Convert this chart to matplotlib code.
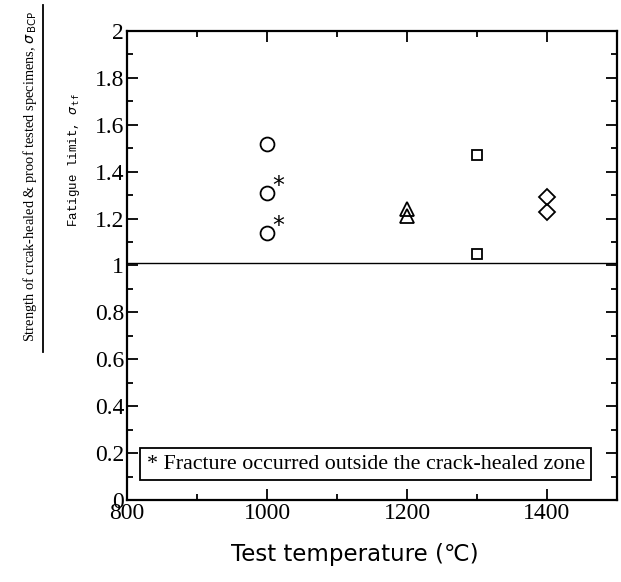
import numpy as np
import matplotlib.pyplot as plt
from matplotlib.ticker import MultipleLocator

# data (normalised strength vs test temperature)
temp_circle = [1000, 1000, 1000]
val_circle = [1.52, 1.31, 1.14]
star_circle = [False, True, True]

temp_tri = [1200, 1200]
val_tri = [1.24, 1.21]

temp_sq = [1300, 1300]
val_sq = [1.47, 1.05]

temp_dia = [1400, 1400]
val_dia = [1.29, 1.23]

ref_level = 1.01

plt.rcParams['font.family'] = ['Liberation Serif', 'DejaVu Serif']

fig = plt.figure(figsize=(6.21, 5.82), dpi=100)
ax = fig.add_axes([127/621, 82/582, 490/621, 469/582])

mk = dict(linestyle='none', markerfacecolor='none', markeredgecolor='black', markeredgewidth=1.3)
ax.plot(temp_circle, val_circle, marker='o', markersize=10, **mk)
ax.plot(temp_tri, val_tri, marker='^', markersize=10, **mk)
ax.plot(temp_sq, val_sq, marker='s', markersize=7.5, **mk)
ax.plot(temp_dia, val_dia, marker='D', markersize=8, **mk)

# asterisks for fractures outside the healed zone
for t, v, s in zip(temp_circle, val_circle, star_circle):
    if s:
        ax.annotate('*', (t, v), xytext=(8, 5), textcoords='offset points',
                    fontsize=17, family='DejaVu Sans', va='center', ha='center')

ax.axhline(ref_level, color='black', linewidth=1.0)

ax.set_xlim(800, 1500)
ax.set_ylim(0, 2)
ax.xaxis.set_major_locator(MultipleLocator(200))
ax.xaxis.set_minor_locator(MultipleLocator(100))
ax.yaxis.set_major_locator(MultipleLocator(0.2))
ax.yaxis.set_minor_locator(MultipleLocator(0.1))
ax.yaxis.set_major_formatter(plt.FuncFormatter(lambda v, p: ('%g' % round(v, 1))))
ax.tick_params(which='both', direction='in', top=True, right=True, width=1.3)
ax.tick_params(which='major', length=8, labelsize=17, pad=2)
ax.tick_params(which='minor', length=4)
for s in ax.spines.values():
    s.set_linewidth(1.6)

ax.text(0.04, 0.076, '* Fracture occurred outside the crack-healed zone',
        transform=ax.transAxes, fontsize=15.8, va='center', ha='left',
        bbox=dict(boxstyle='square,pad=0.3', facecolor='white', edgecolor='black', linewidth=1.3))

fig.text(355/621, 1 - 555/582, 'Test temperature (\u2103)',
         family='DejaVu Sans', fontsize=16.5, ha='center', va='center')

fig.text(30/621, 1 - 177/582, 'Strength of crcak-healed & proof tested specimens, $\\sigma_{\\,\\mathrm{BCP}}$',
         rotation=90, fontsize=10.4, ha='center', va='center')
fig.add_artist(plt.Line2D([43/621, 43/621], [1 - 352/582, 1 - 5/582], color='black', linewidth=1.3))
fig.text(74/621, 1 - 160/582, 'Fatigue limit, $\\sigma_{\\,\\mathtt{tf}}$',
         rotation=90, fontsize=9, family='Liberation Mono', ha='center', va='center')

plt.savefig('out.png')
